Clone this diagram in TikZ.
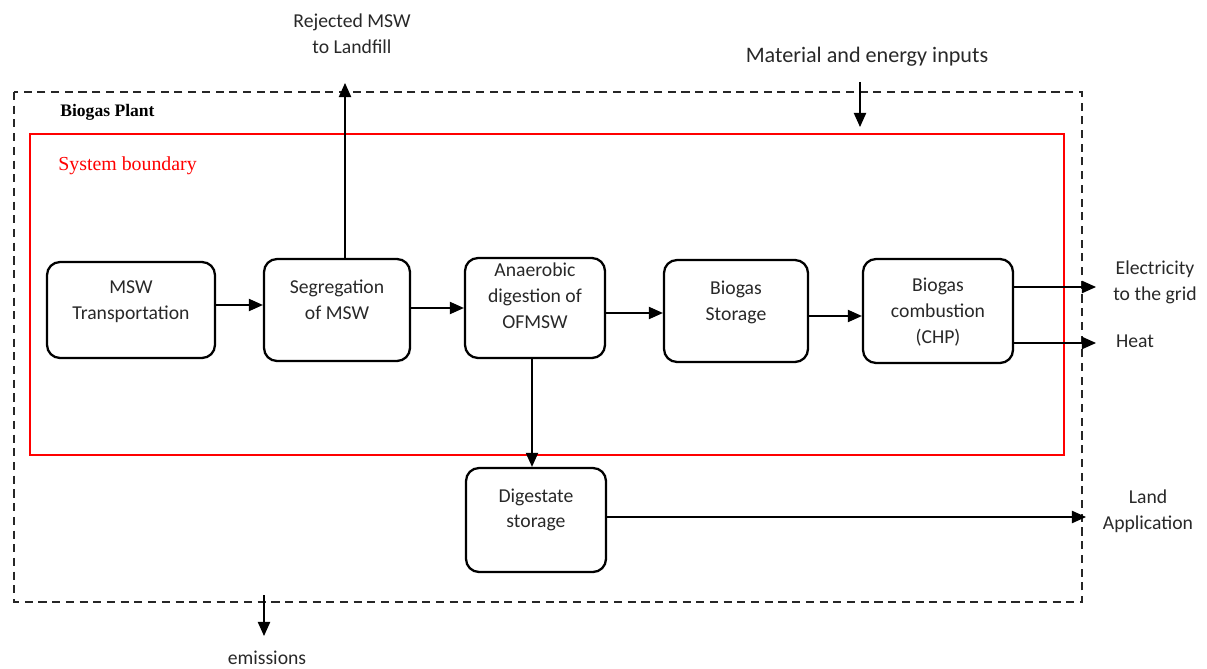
\documentclass[tikz,border=0pt]{standalone}
\usepackage{fontspec}
\setmainfont{Carlito}
\newfontfamily\serifx{Liberation Serif}
\usetikzlibrary{arrows.meta}
\definecolor{sysred}{RGB}{255,0,0}
\definecolor{ink}{RGB}{40,40,40}
\tikzset{
  proc/.style={draw=black, line width=1.3pt, rounded corners=0.26cm, inner sep=0pt},
  flow/.style={line width=0.7pt, -{Triangle[length=8pt,width=7pt]}},
  lbl/.style={align=center, font=\fontsize{11.2}{14.7}\selectfont, text=ink, inner sep=1pt},
}
\begin{document}
\begin{tikzpicture}[x=0.02cm,y=-0.02cm]
\useasboundingbox (0,0) rectangle (1207,669);
% plant boundary
\draw[line width=1.4pt, dash pattern=on 4.6pt off 3.2pt, black!85] (14,92) rectangle (1082,602);
\node[font=\serifx\bfseries\fontsize{10}{12}\selectfont, anchor=west, inner sep=0pt] (plant) at (60,112) {Biogas Plant};
% system boundary
\draw[sysred, line width=1.2pt] (30,134) rectangle (1064,455);
\node[font=\serifx\fontsize{11.3}{14}\selectfont, text=sysred, anchor=west, inner sep=0pt] (sys) at (58,166) {System boundary};
% process boxes
\node[proc, minimum width=3.36cm, minimum height=1.92cm] (msw) at (131,310) {};
\node[proc, minimum width=2.92cm, minimum height=2.04cm] (seg) at (337,310) {};
\node[proc, minimum width=2.80cm, minimum height=2.00cm] (ad) at (535,308) {};
\node[proc, minimum width=2.88cm, minimum height=2.04cm] (bst) at (736,311) {};
\node[proc, minimum width=3.00cm, minimum height=2.08cm] (chp) at (938,311) {};
\node[proc, minimum width=2.80cm, minimum height=2.08cm] (dig) at (536,520) {};
% box texts
\node[lbl] (msw-t) at (131,301.5) {MSW\\Transportation};
\node[lbl] (seg-t) at (337,300) {Segregation\\of MSW};
\node[lbl] (ad-t) at (535,296) {Anaerobic\\digestion of\\OFMSW};
\node[lbl] (bst-t) at (736,302.5) {Biogas\\Storage};
\node[lbl] (chp-t) at (938,312) {Biogas\\combustion\\(CHP)};
\node[lbl] (dig-t) at (536,510) {Digestate\\storage};
% outside labels
\node[lbl] (rej) at (352,34) {Rejected MSW\\to Landfill};
\node[lbl, font=\fontsize{12.6}{15}\selectfont] (mat) at (867,57) {Material and energy inputs};
\node[lbl] (elec) at (1155,282) {Electricity\\to the grid};
\node[lbl, anchor=west] (heat) at (1114,341) {Heat};
\node[lbl] (land) at (1148,511) {Land\\Application};
\node[lbl] (emi) at (267,658) {emissions};
\coordinate (rejend) at (345,83);
\coordinate (matstart) at (860,82);
\coordinate (matend) at (860,127);
\coordinate (elecend) at (1096,287);
\coordinate (heatend) at (1096,343);
\coordinate (landend) at (1086,517);
\coordinate (emistart) at (264,595);
\coordinate (emiend) at (264,636);
% connectors
\draw[flow] (msw.east |- 0,305) -- (seg.west |- 0,305);
\draw[flow] (seg.east |- 0,308) -- (ad.west |- 0,308);
\draw[flow] (ad.east |- 0,313) -- (bst.west |- 0,313);
\draw[flow] (bst.east |- 0,316) -- (chp.west |- 0,316);
\draw[flow] (seg.north -| rejend) -- (rejend);
\draw[flow] (matstart) -- (matend);
\draw[flow] (chp.east |- elecend) -- (elecend);
\draw[flow] (chp.east |- heatend) -- (heatend);
\draw[flow] (ad.south -| 532,0) -- (dig.north -| 532,0);
\draw[flow] (dig.east |- landend) -- (landend);
\draw[flow] (emistart) -- (emiend);
\end{tikzpicture}
\end{document}
